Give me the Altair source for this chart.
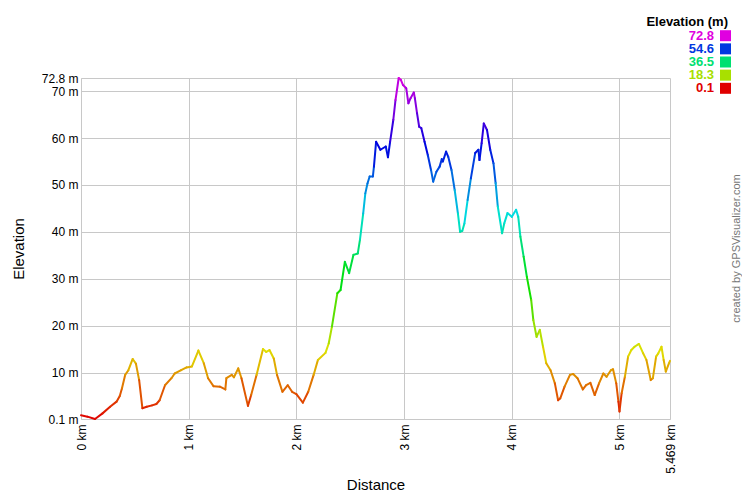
import altair as alt
import pandas as pd

distance_km = [0.00, 0.06, 0.13, 0.20, 0.27, 0.33, 0.36, 0.38, 0.41, 0.44, 0.48, 0.51, 0.54, 0.57, 0.61,
               0.66, 0.70, 0.73, 0.78, 0.84, 0.87, 0.93, 0.98, 1.03, 1.09, 1.14, 1.18, 1.23, 1.29, 1.34,
               1.35, 1.40, 1.42, 1.46, 1.49, 1.55, 1.58, 1.63, 1.69, 1.72, 1.75, 1.79, 1.82, 1.87, 1.92,
               1.96, 2.00, 2.06, 2.11, 2.16, 2.20, 2.27, 2.30, 2.33, 2.38, 2.41, 2.45, 2.49, 2.53, 2.57,
               2.59, 2.62, 2.64, 2.66, 2.68, 2.71, 2.72, 2.74, 2.78, 2.83, 2.85, 2.87, 2.90, 2.92, 2.95,
               2.97, 2.99, 3.02, 3.04, 3.06, 3.09, 3.10, 3.12, 3.14, 3.16, 3.19, 3.22, 3.25, 3.27, 3.30,
               3.33, 3.35, 3.36, 3.39, 3.41, 3.44, 3.47, 3.50, 3.52, 3.54, 3.56, 3.59, 3.62, 3.66, 3.69,
               3.70, 3.72, 3.74, 3.77, 3.80, 3.83, 3.85, 3.87, 3.91, 3.93, 3.96, 4.00, 4.04, 4.06, 4.08,
               4.11, 4.14, 4.18, 4.20, 4.23, 4.26, 4.29, 4.32, 4.36, 4.40, 4.43, 4.45, 4.49, 4.54, 4.57,
               4.61, 4.66, 4.69, 4.73, 4.77, 4.81, 4.85, 4.88, 4.92, 4.94, 4.97, 4.99, 5.00, 5.02, 5.05,
               5.08, 5.11, 5.14, 5.18, 5.22, 5.25, 5.29, 5.31, 5.34, 5.36, 5.39, 5.41, 5.43, 5.46, 5.469]
elevation_m = [0.9, 0.6, 0.1, 1.3, 2.7, 3.8, 5.0, 6.6, 9.5, 10.5, 12.9, 11.9, 8.4, 2.4, 2.7,
               3.0, 3.3, 4.1, 7.3, 8.8, 9.8, 10.5, 11.1, 11.3, 14.7, 12.0, 8.8, 7.1, 7.0, 6.4,
               8.8, 9.5, 9.0, 10.9, 8.8, 2.9, 5.2, 9.5, 15.0, 14.4, 14.8, 13.0, 9.5, 5.9, 7.3,
               5.9, 5.4, 3.6, 5.9, 9.5, 12.7, 14.2, 16.2, 19.8, 26.9, 27.6, 33.6, 31.2, 35.1, 35.4,
               38.3, 43.9, 48.2, 50.3, 51.8, 51.8, 53.9, 59.2, 57.5, 58.2, 55.9, 59.2, 63.9, 68.1, 72.8,
               72.4, 71.3, 70.6, 67.4, 68.5, 69.7, 68.5, 65.3, 62.4, 62.1, 59.2, 56.4, 53.2, 50.7, 52.8,
               53.9, 55.5, 55.0, 57.1, 56.0, 53.2, 48.9, 43.9, 40.0, 40.2, 41.8, 46.8, 51.4, 56.8, 57.5,
               55.3, 58.9, 63.1, 61.7, 57.5, 54.6, 50.4, 45.4, 39.7, 41.8, 44.0, 43.2, 44.7, 43.2, 39.0,
               34.7, 30.4, 25.5, 21.2, 17.6, 19.1, 15.5, 12.0, 10.5, 7.7, 4.1, 4.5, 7.0, 9.5, 9.7,
               8.8, 6.4, 7.3, 7.8, 5.2, 7.7, 9.8, 9.1, 10.5, 10.7, 7.7, 3.8, 1.7, 5.6, 9.1,
               13.4, 14.8, 15.5, 16.1, 14.1, 12.7, 8.4, 8.8, 13.4, 14.1, 15.5, 12.7, 10.2, 12.0, 12.5]

y_ticks = [0.1, 10, 20, 30, 40, 50, 60, 70, 72.8]
x_ticks = [0, 1, 2, 3, 4, 5, 5.469]
legend_values = [72.8, 54.6, 36.5, 18.3, 0.1]
legend_title = ["Elevation (m)"]
color_stops = [0.1, 14.64, 29.18, 43.72, 58.26, 72.8]
color_range = ["#e00000", "#e0e000", "#00e000", "#00e0e0", "#0000e0", "#e000e0"]
credit = ["created by GPSVisualizer.com"]

FONT = "Arial"
GRID = "#c8c8c8"

seg = pd.DataFrame({
    "km": distance_km[:-1], "km2": distance_km[1:],
    "m": elevation_m[:-1], "m2": elevation_m[1:],
})
seg["elev"] = (seg["m"] + seg["m2"]) / 2
leg = pd.DataFrame({"v": legend_values, "label": [f"{v:.1f}" for v in legend_values]})

color_scale = alt.Scale(domain=color_stops, range=color_range, interpolate="rgb")
x_scale = alt.Scale(domain=[0, 5.469], nice=False, zero=False)
y_scale = alt.Scale(domain=[0.1, 72.8], nice=False, zero=False)
# legend rows sit above the plot area (negative pixels = above its top edge)
leg_y = alt.Y("label:N", sort=None, axis=None, title=None,
              scale=alt.Scale(type="point", range=[-42.3, 10.3], padding=0))

x_axis = alt.Axis(values=x_ticks, labelExpr="datum.value + ' km'", labelAngle=-90,
                  labelAlign="right", labelBaseline="middle", labelPadding=5, ticks=False,
                  labelFont=FONT, labelFontSize=12, labelColor="#000000",
                  gridColor=GRID, domainColor=GRID, labelOverlap=False, labelFlush=False,
                  title="Distance", titleFont=FONT, titleFontSize=15, titleFontWeight="normal",
                  titleColor="#000000", titleY=65, titleBaseline="middle")
y_axis = alt.Axis(values=y_ticks, labelExpr="datum.value + ' m'", labelPadding=3, ticks=False,
                  labelFont=FONT, labelFontSize=12, labelColor="#000000",
                  gridColor=GRID, domainColor=GRID, labelOverlap=False, labelFlush=False,
                  title="Elevation", titleFont=FONT, titleFontSize=15, titleFontWeight="normal",
                  titleColor="#000000", titleX=-63, titleY=170.5, titleAngle=-90,
                  titleBaseline="middle", titleAlign="center")

lines = alt.Chart(seg).mark_rule(strokeWidth=2, strokeCap="round").encode(
    x=alt.X("km:Q", scale=x_scale, axis=x_axis),
    x2="km2:Q",
    y=alt.Y("m:Q", scale=y_scale, axis=y_axis),
    y2="m2:Q",
    color=alt.Color("elev:Q", scale=color_scale, legend=None),
)

legend_squares = alt.Chart(leg).mark_square(size=121, opacity=1, filled=True).encode(
    x=alt.value(644.5),
    y=leg_y,
    color=alt.Color("v:Q", scale=color_scale, legend=None),
)
legend_labels = alt.Chart(leg).mark_text(
    align="right", baseline="middle", font=FONT, fontSize=13, fontWeight="bold"
).encode(
    x=alt.value(633),
    y=leg_y,
    text="label:N",
    color=alt.Color("v:Q", scale=color_scale, legend=None),
)
legend_head = alt.Chart(pd.DataFrame({"t": legend_title})).mark_text(
    align="right", baseline="middle", font=FONT, fontSize=13, fontWeight="bold", color="#000000"
).encode(text="t:N", x=alt.value(647), y=alt.value(-56.3))

credit_text = alt.Chart(pd.DataFrame({"t": credit})).mark_text(
    angle=270, font=FONT, fontSize=11, color="#777777", align="center", baseline="middle"
).encode(text="t:N", x=alt.value(656), y=alt.value(170.5))

chart = alt.layer(lines, legend_squares, legend_labels, legend_head, credit_text).resolve_scale(
    y="independent"
).properties(
    width=589, height=341,
    autosize="none",
    padding={"left": 73, "top": 70, "right": 72, "bottom": 72},
).configure_view(stroke=None)

chart.save("out.html", embed_options={"renderer": "svg", "actions": False})
